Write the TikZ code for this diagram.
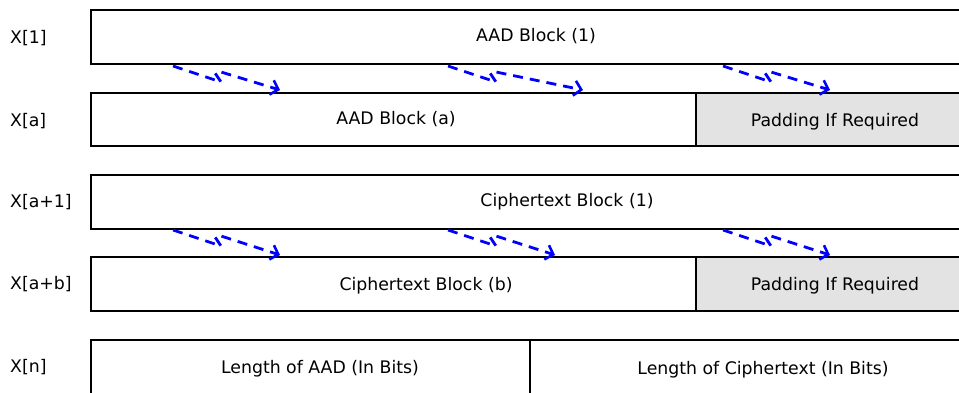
\documentclass[tikz,border=0pt]{standalone}
\usepackage{fontspec}
\setmainfont{DejaVu Sans}
\usepackage{tikz}
\usetikzlibrary{arrows.meta}
\definecolor{pad}{RGB}{227, 227, 227}
\definecolor{arrowblue}{RGB}{0, 0, 255}
\tikzset{
  blk/.style={line width=2.9},
  txt/.style={font=\fontsize{17.3}{20}\selectfont, inner sep=0},
  rowlabel/.style={txt, anchor=west},
  skip/.style={-{Straight Barb[length=7pt, width=15pt, line width=2.6pt]}, dash pattern=on 10pt off 7pt, color=arrowblue, line width=2.8}
}

\begin{document}
\begin{tikzpicture}[x=1pt, y=-1pt]

  \useasboundingbox (0, 0) rectangle (959, 392);
  \clip (0, 0) rectangle (959, 392);

  % row labels
  \node[rowlabel] (x1) at (10, 38) { X[1] };
  \node[rowlabel] (xa) at (10, 121) { X[a] };
  \node[rowlabel] (xa1) at (10, 202) { X[a+1] };
  \node[rowlabel] (xab) at (10, 284) { X[a+b] };
  \node[rowlabel] (xn) at (10, 367) { X[n] };

  % padding
  \fill[color=pad] (696, 93) rectangle (980, 146);
  \fill[color=pad] (696, 257) rectangle (980, 311);

  % blocks
  \draw [blk] (91, 10) rectangle (990, 64);
  \draw [blk] (91, 93) rectangle (990, 146);
  \draw [blk] (696, 93) -- (696, 146);
  \draw [blk] (91, 175) rectangle (990, 229);
  \draw [blk] (91, 257) rectangle (990, 311);
  \draw [blk] (696, 257) -- (696, 311);
  \draw [blk] (91, 340) rectangle (990, 400);
  \draw [blk] (530, 340) -- (530, 400);

  \node[txt] (aad1) at (536, 36) { AAD Block (1) };
  \node[txt] (aada) at (396, 119) { AAD Block (a) };
  \node[txt] (pada) at (835, 122) { Padding If Required };
  \node[txt] (ct1) at (567, 202) { Ciphertext Block (1) };
  \node[txt] (ctb) at (426, 286) { Ciphertext Block (b) };
  \node[txt] (padb) at (835, 286) { Padding If Required };
  \node[txt] (lenaad) at (320, 369) { Length of AAD (In Bits) };
  \node[txt] (lenct) at (763, 370) { Length of Ciphertext (In Bits) };

  % skipped blocks
  \foreach \sx/\sy/\ex/\ey in {173/66/280/90, 448/66/583/90, 723/66/830/90,
                               173/230/280/255, 448/230/555/255, 723/230/830/255} {
    \coordinate (from) at (\sx, \sy);
    \coordinate (to) at (\ex, \ey);
    \draw [skip] (from) -- ++(48, 16) -- ++(-6, -9) -- ++(6, -1) -- (to);
  }

\end{tikzpicture}
\end{document}
